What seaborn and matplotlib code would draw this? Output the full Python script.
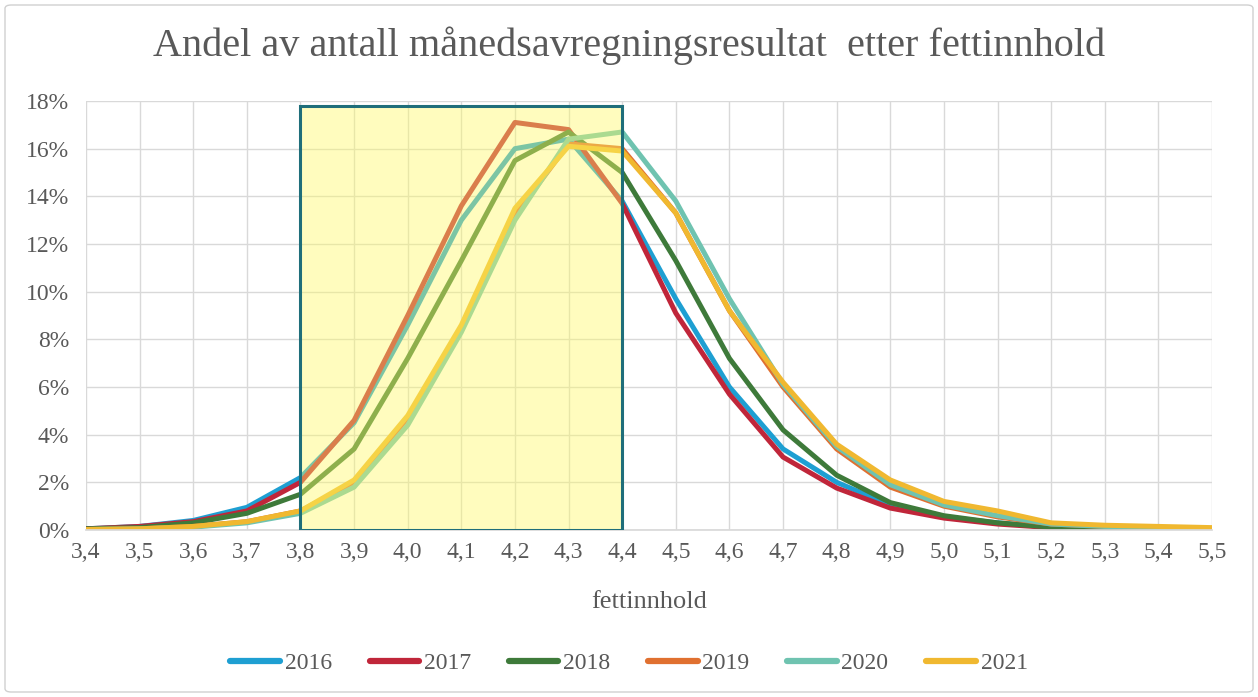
import matplotlib
matplotlib.use("Agg")
import matplotlib.pyplot as plt
import matplotlib.patches as mpatches
from matplotlib.lines import Line2D
import seaborn as sns
import pandas as pd
import numpy as np

fett = [3.4, 3.5, 3.6, 3.7, 3.8, 3.9, 4.0, 4.1, 4.2, 4.3, 4.4, 4.5, 4.6, 4.7, 4.8,
        4.9, 5.0, 5.1, 5.2, 5.3, 5.4, 5.5]
x_labels = ["3,4", "3,5", "3,6", "3,7", "3,8", "3,9", "4,0", "4,1", "4,2", "4,3", "4,4",
            "4,5", "4,6", "4,7", "4,8", "4,9", "5,0", "5,1", "5,2", "5,3", "5,4", "5,5"]
years = ["2016", "2017", "2018", "2019", "2020", "2021"]

y2016 = [0.05, 0.15, 0.40, 0.95, 2.2, 4.5, 8.6, 13.0, 16.0, 16.4, 13.8, 9.7, 6.0, 3.4, 2.0,
         1.05, 0.55, 0.30, 0.12, 0.06, 0.04, 0.02]
y2017 = [0.05, 0.15, 0.35, 0.80, 2.0, 4.6, 9.0, 13.6, 17.1, 16.8, 13.7, 9.1, 5.7, 3.06, 1.76,
         0.92, 0.50, 0.25, 0.10, 0.05, 0.03, 0.02]
y2018 = [0.05, 0.10, 0.30, 0.70, 1.5, 3.4, 7.2, 11.3, 15.5, 16.7, 15.0, 11.3, 7.2, 4.2, 2.3,
         1.15, 0.60, 0.30, 0.12, 0.06, 0.04, 0.02]
y2019 = [0.02, 0.05, 0.15, 0.35, 0.8, 2.0, 4.7, 8.5, 13.2, 16.2, 16.0, 13.3, 9.2, 6.0, 3.4,
         1.8, 1.0, 0.55, 0.25, 0.15, 0.10, 0.05]
y2020 = [0.02, 0.05, 0.12, 0.30, 0.7, 1.8, 4.4, 8.3, 13.0, 16.4, 16.7, 13.8, 9.7, 6.1, 3.5,
         1.9, 1.05, 0.60, 0.25, 0.15, 0.10, 0.05]
y2021 = [0.02, 0.05, 0.15, 0.35, 0.8, 2.1, 4.8, 8.6, 13.5, 16.1, 15.9, 13.3, 9.2, 6.2, 3.6,
         2.1, 1.2, 0.80, 0.30, 0.20, 0.15, 0.10]

colors = ["#1E9FD2", "#C0263A", "#3E7A3A", "#E07030", "#6FC3B0", "#F0B830"]

series = [y2016, y2017, y2018, y2019, y2020, y2021]
rows = []
for yr, vals in zip(years, series):
    for xv, v in zip(fett, vals):
        rows.append({"fettinnhold": xv, "andel": v, "år": yr})
df = pd.DataFrame(rows)

sns.set_theme(style="white")
serif = ["Liberation Serif", "DejaVu Serif"]
plt.rcParams["font.family"] = serif
grey = "#595959"

fig = plt.figure(figsize=(12.58, 6.97), dpi=100)
ax = fig.add_axes([86/1258, 1-530/697, (1212-86)/1258, (530-101)/697])

sns.lineplot(data=df, x="fettinnhold", y="andel", hue="år", palette=colors,
             linewidth=3.6, ax=ax, legend=False, estimator=None, zorder=2)
for ln in ax.get_lines():
    ln.set_solid_joinstyle("round")
    ln.set_solid_capstyle("round")

ax.set_xlim(3.4, 5.5)
ax.set_ylim(0, 18)
ax.set_xticks(fett)
ax.set_xticklabels(x_labels)
ax.set_yticks(np.arange(0, 19, 2))
ax.set_yticklabels([f"{v}%" for v in range(0, 19, 2)])
ax.tick_params(axis="both", colors=grey, labelsize=17, length=0)
ax.tick_params(axis="x", pad=9)
ax.tick_params(axis="y", pad=12)
ax.grid(True, color="#D9D9D9", linewidth=1.0, zorder=0)
ax.set_axisbelow(True)
for s in ["top", "right", "left"]:
    ax.spines[s].set_visible(False)
ax.spines["bottom"].set_color("#D9D9D9")

# highlight box
ax.add_patch(mpatches.Rectangle((3.8, 0), 0.6, 17.8, facecolor=(1.0, 0.98, 0.40),
                                alpha=0.42, edgecolor="none", zorder=3))
ax.add_patch(mpatches.Rectangle((3.8, 0), 0.6, 17.8, facecolor="none",
                                edgecolor="#1F6E7A", linewidth=2.2, zorder=4))

ax.set_xlabel("fettinnhold", fontsize=19, color=grey, labelpad=20)
ax.set_ylabel("")

fig.text(0.5, 1-46/697, "Andel av antall månedsavregningsresultat  etter fettinnhold",
         ha="center", va="center", fontsize=29, color=grey)

handles = [Line2D([0], [0], color=c, linewidth=4.5, solid_capstyle="round") for c in colors]
fig.legend(handles, years, loc="center", bbox_to_anchor=(0.5, 1-663/697), ncol=6,
           frameon=False, fontsize=17, handlelength=2.1, columnspacing=1.6,
           handletextpad=0.2, labelcolor=grey)

fig.patches.append(mpatches.FancyBboxPatch((5/1258, 5/697), 1-10/1258, 1-10/697,
                                           boxstyle="round,pad=0,rounding_size=0.005",
                                           transform=fig.transFigure, facecolor="none",
                                           edgecolor="#D0D0D0", linewidth=1.0))

fig.savefig("out.png", dpi=100)
